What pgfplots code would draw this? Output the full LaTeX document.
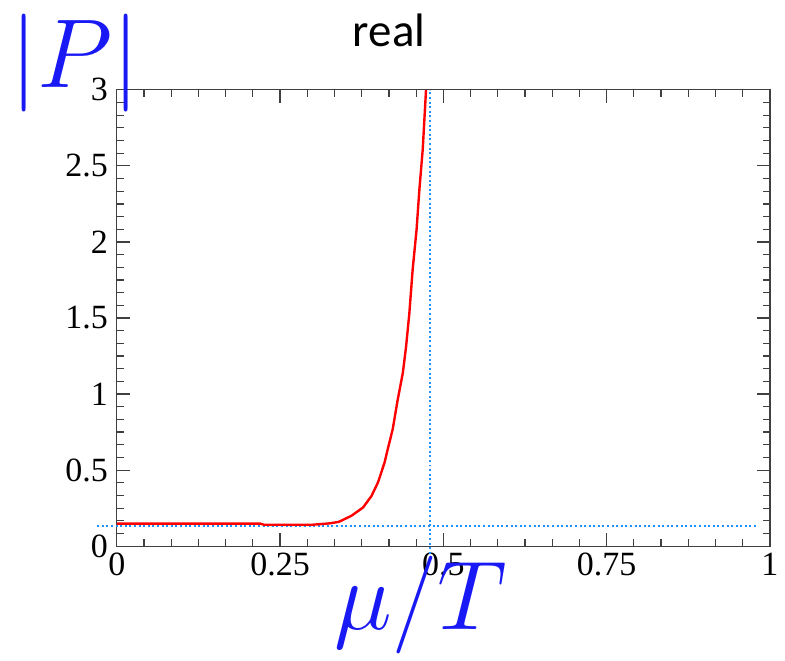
\RequirePackage{fix-cm}
\documentclass[border=0pt]{standalone}
\usepackage{fontspec}
\setmainfont{Liberation Serif}
\newfontfamily\carlito{Carlito}
\usepackage{pgfplots}
\pgfplotsset{compat=1.18}
\definecolor{pblue}{RGB}{25,25,245}
\definecolor{dotblue}{RGB}{30,144,255}

\begin{document}
\begin{tikzpicture}
\begin{axis}[
  scale only axis, width=327pt, height=228.5pt,
  xmin=0, xmax=1, ymin=0, ymax=3,
  xtick={0,0.25,0.5,0.75,1}, ytick={0,0.5,1,1.5,2,2.5,3},
  xticklabels={0,0.25,0.5,0.75,1},
  yticklabels={0,0.5,1,1.5,2,2.5,3},
  minor x tick num=5, minor y tick num=5,
  tick align=inside, xtick pos=both, ytick pos=both,
  major tick length=6.5pt, minor tick length=3.5pt,
  axis line style={black!75, line width=0.65pt},
  every tick/.style={black!75, line width=0.6pt},
  tick label style={font=\fontsize{17}{19}\selectfont},
  /pgf/number format/assume math mode=true,
  yticklabel style={xshift=-1pt},
  clip=false,
]
% invisible frame giving the reference's page size
\path (rel axis cs:-0.1789,-0.2341) rectangle (rel axis cs:1.0214,1.1969);

\addplot[dotblue, line width=1pt, dash pattern=on 1pt off 1.3pt] coordinates {(-0.03,0.133) (0.98,0.133)};
\addplot[dotblue, line width=1pt, dash pattern=on 1pt off 1.3pt] coordinates {(0.479,-0.05) (0.479,3.0)};

\addplot[red, line width=1.2pt] coordinates {
  (0,0.148) (0.22,0.148) (0.225,0.141) (0.30,0.141) (0.326,0.150)
  (0.340,0.160) (0.359,0.199) (0.377,0.254) (0.390,0.330) (0.400,0.420)
  (0.410,0.550) (0.415,0.640) (0.4225,0.770) (0.430,0.960) (0.438,1.140)
  (0.443,1.315) (0.448,1.534) (0.453,1.818) (0.459,2.081) (0.4633,2.344)
  (0.4684,2.606) (0.4735,3.0)
};

\node[anchor=base, font=\carlito\fontsize{23.5}{26}\selectfont] at (rel axis cs:0.417,1.095) {real};
\node[text=pblue, font=\fontsize{49}{55}\selectfont] at (rel axis cs:-0.064,1.059) {$|P|$};
\node[anchor=base, text=pblue, font=\fontsize{49}{55}\selectfont] at (rel axis cs:0.465,-0.182) {$\mu/T$};
\end{axis}
\end{tikzpicture}
\end{document}
